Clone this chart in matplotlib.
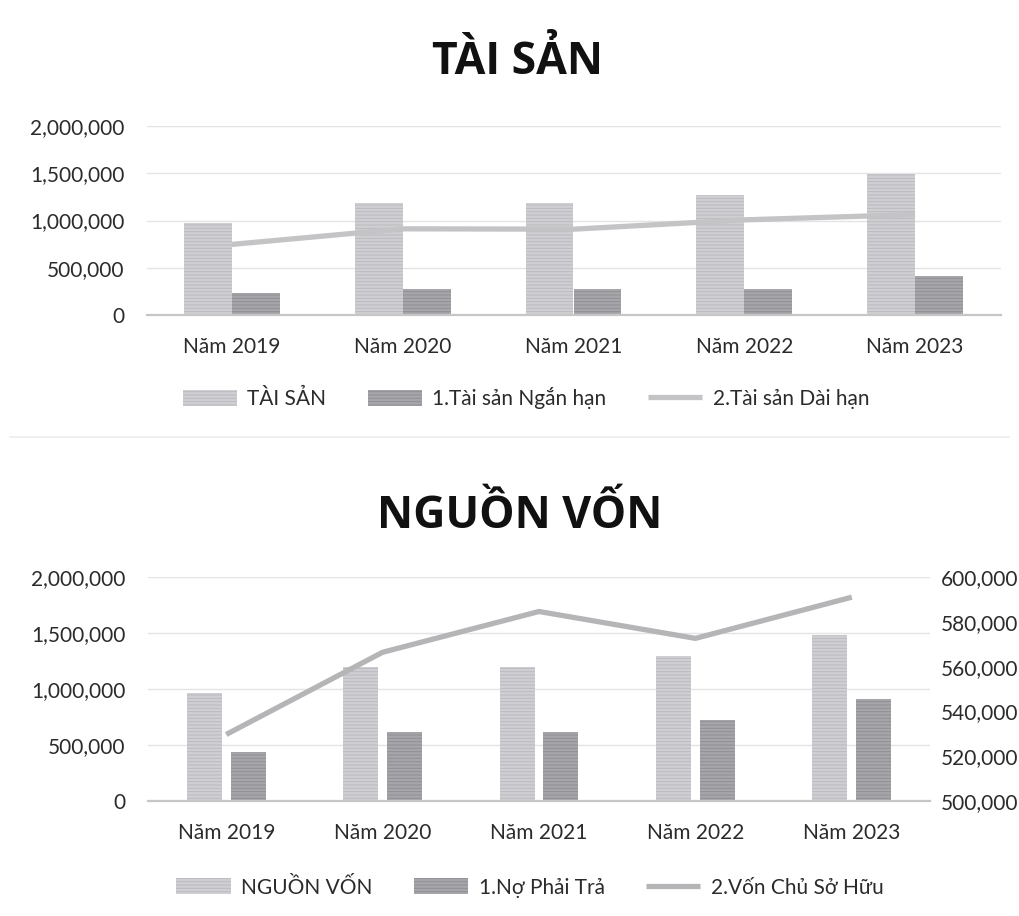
import matplotlib
matplotlib.use('Agg')
import matplotlib.pyplot as plt
from matplotlib.ticker import FuncFormatter
import numpy as np

plt.rcParams['font.family'] = ['Lato', 'DejaVu Sans']
plt.rcParams['hatch.linewidth'] = 0.6

# ---------------- data ----------------
years = ['Năm 2019', 'Năm 2020', 'Năm 2021', 'Năm 2022', 'Năm 2023']

# TÀI SẢN chart
tai_san = [975000, 1190000, 1190000, 1275000, 1490000]
ts_ngan_han = [228000, 270000, 275000, 270000, 414000]
ts_dai_han = [747000, 912000, 908000, 1007000, 1063000]

# NGUỒN VỐN chart
nguon_von = [965000, 1195000, 1195000, 1299000, 1484000]
no_phai_tra = [439000, 618000, 618000, 723000, 908000]
von_chu_so_huu = [529700, 566400, 584600, 572600, 591000]   # right axis

# ---------------- style ----------------
c_total = '#cfcfd3'
c_part = '#a6a6aa'
c_line = '#c4c4c6'
c_line2 = '#b5b5b8'
c_grid = '#e4e4e4'
c_axis = '#c6c6c6'
c_text = '#2b2b2b'
fs = 15

fmt = FuncFormatter(lambda v, p: f'{int(v):,}')
x = np.arange(len(years))

fig = plt.figure(figsize=(10.19, 9.16), dpi=100)
W, H = 1019, 916


def box(l, r, top, bot):
    return [l / W, 1 - bot / H, (r - l) / W, (bot - top) / H]


def style_axis(ax):
    for s in ['top', 'right', 'left']:
        ax.spines[s].set_visible(False)
    ax.spines['bottom'].set_color(c_axis)
    ax.spines['bottom'].set_linewidth(1.6)
    ax.grid(axis='y', color=c_grid, linewidth=1.0)
    ax.set_axisbelow(True)
    ax.tick_params(axis='both', length=0, labelsize=fs, colors=c_text)
    ax.yaxis.set_major_formatter(fmt)
    ax.set_xticks(x)
    ax.set_xticklabels(years)
    ax.set_xlim(-0.5, len(years) - 0.5)


# ========== TÀI SẢN ==========
ax1 = fig.add_axes(box(146.5, 1000.5, 126, 315))
w1 = 0.28
b1 = ax1.bar(x - 0.14, tai_san, w1, color=c_total, edgecolor='#b8b8bd', hatch='-----',
             linewidth=0, label='TÀI SẢN')
b2 = ax1.bar(x + 0.14, ts_ngan_han, w1, color=c_part, edgecolor='#8c8c91', hatch='-----',
             linewidth=0, label='1.Tài sản Ngắn hạn')
l1, = ax1.plot(x, ts_dai_han, color=c_line, linewidth=3.8, solid_capstyle='butt',
               label='2.Tài sản Dài hạn')
ax1.set_ylim(0, 2000000)
ax1.set_yticks(np.arange(0, 2000001, 500000))
style_axis(ax1)
ax1.tick_params(axis='y', pad=16)
ax1.tick_params(axis='x', pad=16)

fig.text(517 / W, 1 - 63 / H, 'TÀI SẢN', ha='center', va='center', fontsize=32,
         fontweight='bold', family=['Open Sans', 'DejaVu Sans'], color='#111111')

fig.legend([b1, b2, l1], ['TÀI SẢN', '1.Tài sản Ngắn hạn', '2.Tài sản Dài hạn'],
           loc='center', bbox_to_anchor=(526 / W, 1 - 398 / H), ncol=3,
           frameon=False, fontsize=fs, handlelength=2.6, handleheight=0.8,
           handletextpad=0.5, columnspacing=2.0, labelcolor=c_text)

# separator between the two charts
fig.add_artist(plt.Line2D([0.01, 0.99], [1 - 437 / H, 1 - 437 / H],
                          color='#ececec', linewidth=1.2))

# ========== NGUỒN VỐN ==========
ax2 = fig.add_axes(box(148, 930, 577, 801))
w2 = 0.224
b3 = ax2.bar(x - 0.14, nguon_von, w2, color=c_total, edgecolor='#b8b8bd', hatch='-----',
             linewidth=0, label='NGUỒN VỐN')
b4 = ax2.bar(x + 0.14, no_phai_tra, w2, color=c_part, edgecolor='#8c8c91', hatch='-----',
             linewidth=0, label='1.Nợ Phải Trả')
ax2.set_ylim(0, 2000000)
ax2.set_yticks(np.arange(0, 2000001, 500000))
style_axis(ax2)
ax2.tick_params(axis='y', pad=16)
ax2.tick_params(axis='x', pad=16)

ax3 = ax2.twinx()
l2, = ax3.plot(x, von_chu_so_huu, color=c_line2, linewidth=3.8, solid_capstyle='butt',
               label='2.Vốn Chủ Sở Hữu')
ax3.set_ylim(500000, 600000)
ax3.set_yticks(np.arange(500000, 600001, 20000))
ax3.yaxis.set_major_formatter(fmt)
ax3.tick_params(axis='y', length=0, labelsize=fs, colors=c_text, pad=8)
for s in ax3.spines.values():
    s.set_visible(False)

fig.text(520 / W, 1 - 516 / H, 'NGUỒN VỐN', ha='center', va='center', fontsize=32,
         fontweight='bold', family=['Open Sans', 'DejaVu Sans'], color='#111111')

fig.legend([b3, b4, l2], ['NGUỒN VỐN', '1.Nợ Phải Trả', '2.Vốn Chủ Sở Hữu'],
           loc='center', bbox_to_anchor=(530 / W, 1 - 887 / H), ncol=3,
           frameon=False, fontsize=fs, handlelength=2.6, handleheight=0.8,
           handletextpad=0.5, columnspacing=2.0, labelcolor=c_text)

fig.savefig('out.png', dpi=100, facecolor='white')
